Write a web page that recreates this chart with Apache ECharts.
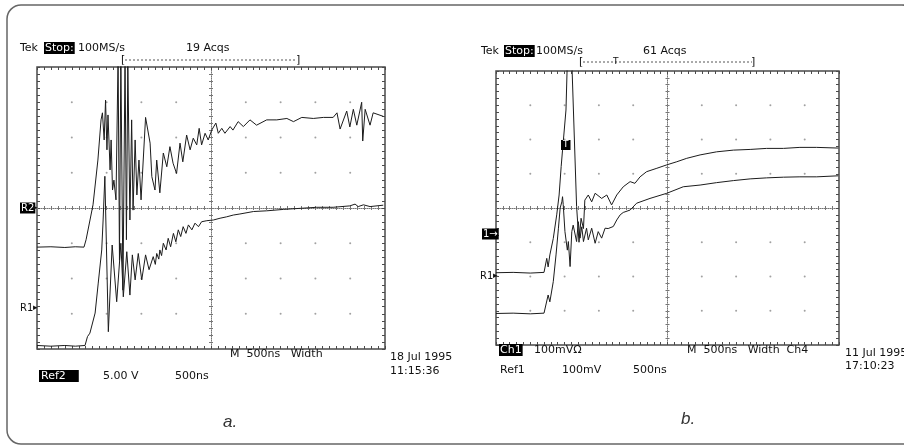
<!DOCTYPE html>
<html>
<head>
<meta charset="utf-8">
<script src="https://cdn.jsdelivr.net/npm/echarts@6/dist/echarts.min.js"></script>
<style>html,body{margin:0;padding:0;background:#fff}#c{width:904px;height:446px}</style>
</head>
<body>
<div id="c"></div>
<script>
// Values in screen divisions: x = -5..5 (500 ns/div), y = -4..4
const xTicks = [-5,-4,-3,-2,-1,0,1,2,3,4,5];
const yTicks = [-4,-3,-2,-1,0,1,2,3,4];

// Panel a: upper trace (Ref2-like) and lower trace (R1)
const aUpper = [[-5,-1.11],[-4.6,-1.1],[-4.2,-1.12],[-3.9,-1.1],[-3.65,-1.11],[-3.59,-0.9],[-3.39,0.09],[-3.25,1.36],[-3.16,2.5],[-3.12,2.7],[-3.07,1.93],[-3.03,3.06],[-2.99,1.65],[-2.96,2.64],[-2.90,1.08],[-2.87,1.93],[-2.83,0.51],[-2.79,0.79],[-2.73,0.23],[-2.67,4.3],[-2.63,-1.48],[-2.59,4.3],[-2.53,-2.33],[-2.47,4.3],[-2.43,-0.9],[-2.39,4.1],[-2.33,-0.34],[-2.28,2.5],[-2.24,-0.06],[-2.18,1.93],[-2.13,0.37],[-2.07,1.36],[-2.01,0.23],[-1.88,2.57],[-1.75,1.84],[-1.70,0.89],[-1.61,0.51],[-1.56,1.36],[-1.47,0.43],[-1.37,1.56],[-1.27,1.17],[-1.18,1.74],[-1.09,1.27],[-0.99,0.98],[-0.89,1.84],[-0.81,1.31],[-0.70,2.07],[-0.60,1.65],[-0.51,1.98],[-0.41,1.79],[-0.34,2.26],[-0.27,1.79],[-0.17,2.12],[-0.08,1.93],[0.02,2.21],[0.14,2.41],[0.21,2.12],[0.31,2.26],[0.40,2.12],[0.55,2.31],[0.63,2.21],[0.78,2.45],[0.93,2.31],[1.12,2.5],[1.31,2.35],[1.60,2.5],[1.89,2.5],[2.18,2.54],[2.37,2.45],[2.61,2.57],[2.94,2.54],[3.23,2.57],[3.51,2.57],[3.62,2.7],[3.71,2.24],[3.90,2.75],[3.99,2.3],[4.09,2.8],[4.19,2.35],[4.33,3.0],[4.36,1.9],[4.43,2.8],[4.57,2.35],[4.66,2.7],[4.95,2.6]];
const aLower = [[-5,-3.9],[-4.6,-3.92],[-4.2,-3.9],[-3.9,-3.92],[-3.62,-3.9],[-3.55,-3.65],[-3.48,-3.55],[-3.33,-2.98],[-3.24,-2.13],[-3.14,-1.19],[-3.10,-0.34],[-3.05,0.9],[-2.95,-3.51],[-2.84,-1.05],[-2.71,-2.66],[-2.59,-1.0],[-2.52,-2.52],[-2.42,-1.24],[-2.33,-2.47],[-2.26,-1.33],[-2.18,-2.04],[-2.09,-1.29],[-1.99,-2.04],[-1.88,-1.33],[-1.78,-1.75],[-1.66,-1.38],[-1.60,-1.6],[-1.56,-1.29],[-1.50,-1.45],[-1.47,-1.19],[-1.42,-1.35],[-1.37,-1.0],[-1.29,-1.19],[-1.23,-0.86],[-1.16,-1.10],[-1.08,-0.72],[-1.01,-0.96],[-0.94,-0.62],[-0.87,-0.81],[-0.80,-0.53],[-0.72,-0.72],[-0.65,-0.48],[-0.55,-0.62],[-0.46,-0.43],[-0.36,-0.53],[-0.27,-0.39],[-0.12,-0.36],[0.07,-0.34],[0.26,-0.29],[0.45,-0.25],[0.64,-0.2],[0.83,-0.17],[1.22,-0.1],[1.6,-0.08],[2.08,-0.04],[2.56,-0.01],[3.04,0.02],[3.51,0.02],[3.99,0.06],[4.14,0.11],[4.23,0.04],[4.38,0.09],[4.57,0.04],[4.95,0.08]];

// Panel b: upper trace (Ch1) and lower trace (Ref1)
const bUpper = [[-5,-1.89],[-4.5,-1.88],[-4,-1.9],[-3.6,-1.88],[-3.59,-1.89],[-3.52,-1.47],[-3.48,-1.72],[-3.43,-1.37],[-3.33,-0.89],[-3.23,-0.2],[-3.16,0.38],[-3.10,1.21],[-3.06,1.69],[-2.96,2.86],[-2.92,4.3],[-2.79,4.3],[-2.65,0.04],[-2.58,-1.0],[-2.52,-0.3],[-2.45,-0.6],[-2.41,0.23],[-2.31,0.38],[-2.21,0.18],[-2.11,0.43],[-1.92,0.28],[-1.77,0.38],[-1.63,0.09],[-1.48,0.38],[-1.29,0.62],[-1.09,0.77],[-0.95,0.72],[-0.80,0.91],[-0.61,1.06],[-0.31,1.16],[-0.02,1.26],[0.27,1.35],[0.56,1.45],[0.95,1.55],[1.43,1.64],[1.92,1.69],[2.41,1.71],[2.89,1.74],[3.38,1.74],[3.86,1.77],[4.35,1.77],[4.98,1.75]];
const bLower = [[-5,-3.08],[-4.5,-3.07],[-4,-3.09],[-3.6,-3.07],[-3.57,-3.05],[-3.48,-2.54],[-3.43,-2.74],[-3.33,-2.15],[-3.25,-1.37],[-3.18,-0.59],[-3.13,0.0],[-3.08,0.18],[-3.06,0.33],[-3.04,0.1],[-2.99,-0.69],[-2.92,-1.23],[-2.89,-0.98],[-2.84,-1.71],[-2.79,-0.69],[-2.75,-0.5],[-2.65,-0.98],[-2.60,-0.4],[-2.55,-0.88],[-2.50,-0.55],[-2.45,-0.98],[-2.36,-0.59],[-2.31,-0.93],[-2.21,-0.59],[-2.11,-1.03],[-2.02,-0.69],[-1.92,-0.88],[-1.82,-0.59],[-1.73,-0.6],[-1.58,-0.54],[-1.48,-0.35],[-1.38,-0.2],[-1.29,-0.13],[-1.09,-0.06],[-0.90,0.14],[-0.51,0.28],[-0.02,0.43],[0.46,0.62],[0.95,0.67],[1.43,0.74],[1.92,0.8],[2.41,0.85],[2.89,0.88],[3.38,0.9],[3.86,0.91],[4.35,0.91],[4.98,0.94]];

const FONT = 'DejaVu Sans';
const INK = '#1c1c1c';
const FRAME = '#4a4a4a';

function xAxesFor(g) {
  const base = {gridIndex:g, type:'value', min:xTicks[0], max:xTicks[xTicks.length-1], interval:1,
    axisLabel:{show:false}, splitLine:{show:false}, minorSplitLine:{show:false}};
  const frameTick = {show:true, inside:true, length:3, lineStyle:{color:FRAME, width:1}};
  const frameMinor = {show:true, splitNumber:5, length:3, lineStyle:{color:FRAME, width:1}};
  const cTick = {show:true, length:2, lineStyle:{color:'#777', width:1}};
  const cMinor = {show:true, splitNumber:5, length:2, lineStyle:{color:'#777', width:1}};
  return [
    Object.assign({}, base, {position:'bottom', axisLine:{show:false, onZero:false}, axisTick:frameTick, minorTick:frameMinor}),
    Object.assign({}, base, {position:'top', axisLine:{show:false, onZero:false}, axisTick:frameTick, minorTick:frameMinor}),
    Object.assign({}, base, {position:'bottom', axisLine:{show:true, onZero:true, onZeroAxisIndex:g*4, lineStyle:{color:'#777', type:'dotted', width:1}}, axisTick:Object.assign({inside:true}, cTick), minorTick:cMinor}),
    Object.assign({}, base, {position:'bottom', axisLine:{show:false, onZero:true, onZeroAxisIndex:g*4}, axisTick:Object.assign({inside:false}, cTick), minorTick:cMinor})
  ];
}
function yAxesFor(g) {
  const base = {gridIndex:g, type:'value', min:yTicks[0], max:yTicks[yTicks.length-1], interval:1,
    axisLabel:{show:false}, splitLine:{show:false}, minorSplitLine:{show:false}};
  const frameTick = {show:true, inside:true, length:3, lineStyle:{color:FRAME, width:1}};
  const frameMinor = {show:true, splitNumber:5, length:3, lineStyle:{color:FRAME, width:1}};
  const cTick = {show:true, length:2, lineStyle:{color:'#777', width:1}};
  const cMinor = {show:true, splitNumber:5, length:2, lineStyle:{color:'#777', width:1}};
  return [
    Object.assign({}, base, {position:'left', axisLine:{show:false, onZero:false}, axisTick:frameTick, minorTick:frameMinor}),
    Object.assign({}, base, {position:'right', axisLine:{show:false, onZero:false}, axisTick:frameTick, minorTick:frameMinor}),
    Object.assign({}, base, {position:'left', axisLine:{show:true, onZero:true, onZeroAxisIndex:g*4, lineStyle:{color:'#777', type:'dotted', width:1}}, axisTick:Object.assign({inside:true}, cTick), minorTick:cMinor}),
    Object.assign({}, base, {position:'left', axisLine:{show:false, onZero:true, onZeroAxisIndex:g*4}, axisTick:Object.assign({inside:false}, cTick), minorTick:cMinor})
  ];
}

function graticuleDots() {
  const pts = [];
  xTicks.slice(1, -1).forEach(x => yTicks.slice(1, -1).forEach(y => { if (x !== 0 && y !== 0) pts.push([x, y]); }));
  return pts;
}
function trace(g, data) {
  return {type:'line', xAxisIndex:g*4, yAxisIndex:g*4, data:data, showSymbol:false, symbol:'none',
    clip:true, silent:true, lineStyle:{color:INK, width:1}, z:5};
}
function dots(g) {
  return {type:'scatter', xAxisIndex:g*4, yAxisIndex:g*4, data:graticuleDots(), symbolSize:2,
    itemStyle:{color:'#8a8a8a'}, silent:true, z:1};
}

function txt(x, y, s, o) {
  o = o || {};
  const style = {text:s, x:0, y:0, fill:o.fill || '#111', fontSize:o.size || 11, fontFamily:o.family || FONT,
    fontStyle:o.italic ? 'italic' : 'normal', fontWeight:o.weight || 'normal', verticalAlign:'middle', align:o.align || 'left'};
  if (o.box) { style.backgroundColor = '#000'; style.fill = '#fff'; style.padding = o.pad || [1, 2, 0, 2]; }
  return {type:'text', x:x, y:y, z:20, style:style, silent:true};
}
function line(x1, y1, x2, y2, dash) {
  return {type:'line', z:20, silent:true, shape:{x1:x1, y1:y1, x2:x2, y2:y2},
    style:{stroke:'#555', lineWidth:1, lineDash:dash || null}};
}

const graphics = [
  {type:'rect', z:0, silent:true, shape:{x:7, y:5, width:909, height:439, r:14}, style:{fill:'none', stroke:'#666', lineWidth:1.5}},
  // panel a header
  txt(20, 48, 'Tek'), txt(44, 48, 'Stop:', {box:true, pad:[1,1,0,1]}), txt(78, 48, '100MS/s'), txt(186, 48, '19 Acqs'),
  txt(121, 60, '[', {size:11}), line(125, 60, 297, 60, [2, 2]), txt(296, 60, ']', {size:11}),
  // panel a side markers
  txt(20, 208, 'R2', {box:true, pad:[1,1,0,1], size:10}), txt(33, 208, '▸', {size:9}),
  txt(20, 308, 'R1', {size:10}), txt(33, 308, '▸', {size:9}),
  // panel a footer
  txt(230, 354, 'M  500ns   Width'),
  txt(390, 357, '18 Jul 1995'), txt(390, 371, '11:15:36'),
  txt(39, 376, 'Ref2', {box:true, pad:[1,13,0,2]}), txt(103, 376, '5.00 V'), txt(175, 376, '500ns'),
  // panel b header
  txt(481, 51, 'Tek'), txt(504, 51, 'Stop:', {box:true, pad:[1,1,0,1]}), txt(536, 51, '100MS/s'), txt(643, 51, '61 Acqs'),
  txt(579, 62, '[', {size:11}), line(583, 62, 752, 62, [2, 2]), txt(751, 62, ']', {size:11}), txt(613, 62, 'T', {size:9}),
  // panel b markers
  txt(482, 234, '1→', {box:true, pad:[1,1,0,1], size:10}),
  txt(480, 276, 'R1', {size:10}), txt(493, 276, '▸', {size:9}),
  txt(561, 145, 'T', {box:true, pad:[1,2,0,2], size:9}),
  // panel b footer
  txt(499, 350, 'Ch1', {box:true, pad:[1,1,0,1]}), txt(534, 350, '100mVΩ'),
  txt(687, 350, 'M  500ns   Width  Ch4'),
  txt(845, 353, '11 Jul 1995'), txt(845, 366, '17:10:23'),
  txt(500, 370, 'Ref1'), txt(562, 370, '100mV'), txt(633, 370, '500ns'),
  // captions
  txt(223, 422, 'a.', {size:17, italic:true, family:'Liberation Sans Narrow, Liberation Sans', fill:'#333'}),
  txt(681, 419, 'b.', {size:17, italic:true, family:'Liberation Sans Narrow, Liberation Sans', fill:'#333'})
];

const chart = echarts.init(document.getElementById('c'), null, {renderer:'canvas'});
chart.setOption({
  animation:false,
  backgroundColor:'#fff',
  grid:[
    {left:37, top:67, width:348, height:282, show:true, borderColor:FRAME, borderWidth:1.5, backgroundColor:'transparent', containLabel:false},
    {left:496, top:71, width:343, height:274, show:true, borderColor:FRAME, borderWidth:1.5, backgroundColor:'transparent', containLabel:false}
  ],
  xAxis: xAxesFor(0).concat(xAxesFor(1)),
  yAxis: yAxesFor(0).concat(yAxesFor(1)),
  series:[dots(0), dots(1), trace(0, aUpper), trace(0, aLower), trace(1, bUpper), trace(1, bLower)],
  graphic: graphics
});
</script>
</body>
</html>
